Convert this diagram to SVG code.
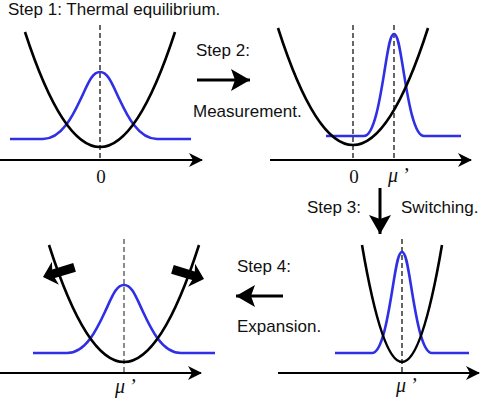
<svg xmlns="http://www.w3.org/2000/svg" width="480" height="402" viewBox="0 0 480 402">
<defs>
<style>
.lbl{font-family:"Liberation Sans",Arial,sans-serif;font-size:17px;fill:#111}
.math{font-family:"Liberation Serif","Times New Roman",serif;font-size:19px;fill:#111}
.mu{font-family:"Liberation Serif","Times New Roman",serif;font-size:20px;font-style:italic;fill:#111}
.para{fill:none;stroke:#000;stroke-width:2.6}
.gauss{fill:none;stroke:#2f2fe6;stroke-width:2.6}
.axis{fill:none;stroke:#000;stroke-width:2}
.dash{fill:none;stroke:#000;stroke-width:1.2;stroke-dasharray:5 3}
.dashg{fill:none;stroke:#666;stroke-width:1.5;stroke-dasharray:5 3}
.step{fill:none;stroke:#000;stroke-width:3}
</style>
<marker id="ah" viewBox="0 0 14 14" refX="13" refY="7" markerWidth="14" markerHeight="14" markerUnits="userSpaceOnUse" orient="auto">
<path d="M0,0 L14,7 L0,14 L4,7 Z" fill="#000"/>
</marker>
<marker id="sh" viewBox="0 0 19 22" refX="19" refY="11" markerWidth="19" markerHeight="22" markerUnits="userSpaceOnUse" orient="auto">
<path d="M0,0 L19,11 L0,22 L4,11 Z" fill="#000"/>
</marker>
<polygon id="fat" points="0,0 -13,-12 -11,-4.5 -33,-4.5 -33,4.5 -11,4.5 -13,12" fill="#000"/>
</defs>

<g id="panel1">
<line class="axis" x1="0" y1="160" x2="202" y2="160" marker-end="url(#ah)"/>
<line class="dash" x1="100" y1="25" x2="100" y2="160"/>
<path class="gauss" d="M10,139 L43,139 C62,139 73.4,114.6 81,98.4 C88.6,82.1 92.4,72 100,72 C107.6,72 111.4,82.1 119,98.4 C126.6,114.6 138,139 157,139 L191,139"/>
<path class="para" d="M25,32 Q100,262 175,32"/>
<text class="math" x="101" y="183" text-anchor="middle">0</text>
</g>

<g id="panel2">
<line class="axis" x1="270" y1="160" x2="471" y2="160" marker-end="url(#ah)"/>
<line class="dash" x1="353" y1="25" x2="353" y2="160"/>
<line class="dash" x1="394" y1="25" x2="394" y2="160"/>
<path class="gauss" d="M326,136 L364,136 C374,136 380,98.9 384,74.1 C388,49.4 390,34 394,34 C398,34 400,49.4 404,74.1 C408,98.9 414,136 424,136 L461,136"/>
<path class="para" d="M278,28 Q353,262 428,28"/>
<text class="math" x="354" y="183" text-anchor="middle">0</text>
<text class="mu" x="388" y="182">μ<tspan dx="4">’</tspan></text>
</g>

<g id="panel3">
<line class="axis" x1="0" y1="373" x2="201" y2="373" marker-end="url(#ah)"/>
<line class="dashg" x1="124" y1="239" x2="124" y2="373"/>
<path class="gauss" d="M33,353 L67,353 C86,353 97.4,328.2 105,311.8 C112.6,295.3 116.4,285 124,285 C131.6,285 135.4,295.3 143,311.8 C150.6,328.2 162,353 181,353 L215,353"/>
<path class="para" d="M49,245 Q124,479 199,245"/>
<use href="#fat" transform="translate(43,277) rotate(163)"/>
<use href="#fat" transform="translate(204,279) rotate(17)"/>
<text class="mu" x="115" y="393">μ<tspan dx="4">’</tspan></text>
</g>

<g id="panel4">
<line class="axis" x1="278" y1="373" x2="479" y2="373" marker-end="url(#ah)"/>
<line class="dash" x1="402" y1="239" x2="402" y2="373"/>
<path class="gauss" d="M335,353 L372,353 C382,353 388,316.2 392,291.7 C396,267.3 398,252 402,252 C406,252 408,267.3 412,291.7 C416,316.2 422,353 432,353 L469,353"/>
<path class="para" d="M362,245 Q402,479 442,245"/>
<text class="mu" x="396" y="392">μ<tspan dx="4">’</tspan></text>
</g>

<g id="connectors">
<line class="step" x1="197" y1="80" x2="250" y2="80" marker-end="url(#sh)"/>
<line class="step" x1="380" y1="188" x2="380" y2="234" marker-end="url(#sh)"/>
<line class="step" x1="283" y1="296" x2="236" y2="296" marker-end="url(#sh)"/>
</g>

<g id="labels">
<text class="lbl" x="8" y="15">Step 1: Thermal equilibrium.</text>
<text class="lbl" x="196" y="56">Step 2:</text>
<text class="lbl" x="193" y="117">Measurement.</text>
<text class="lbl" x="307" y="213">Step 3:</text>
<text class="lbl" x="401" y="213">Switching.</text>
<text class="lbl" x="237" y="272">Step 4:</text>
<text class="lbl" x="237" y="332">Expansion.</text>
</g>
</svg>
